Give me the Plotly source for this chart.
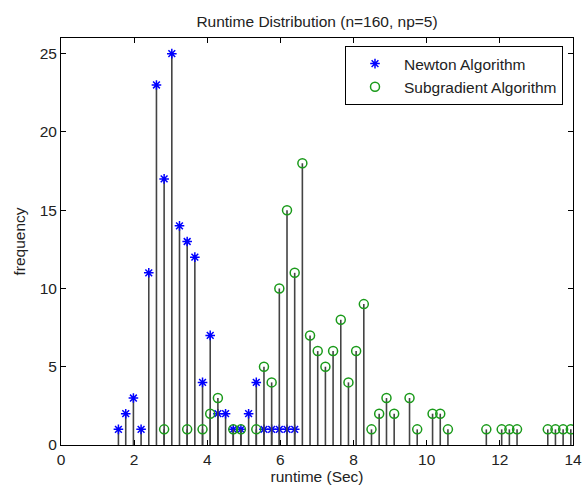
import plotly.graph_objects as go

# ---- data ----
newton_x = [1.57, 1.77, 1.98, 2.19, 2.40, 2.61, 2.82, 3.03, 3.24, 3.45, 3.66, 3.87,
            4.08, 4.29, 4.50, 4.71, 4.92, 5.13, 5.34, 5.55, 5.76, 5.97, 6.18, 6.39]
newton_y = [1, 2, 3, 1, 11, 23, 17, 25, 14, 13, 12, 4,
            7, 2, 2, 1, 1, 2, 4, 1, 1, 1, 1, 1]

subgrad_x = [2.82, 3.45, 3.87, 4.08, 4.29, 4.71, 4.92, 5.34, 5.55, 5.76, 5.97, 6.18,
             6.39, 6.60, 6.81, 7.02, 7.23, 7.44, 7.65, 7.86, 8.07, 8.28, 8.49, 8.70,
             8.90, 9.11, 9.53, 9.74, 10.16, 10.37, 10.58, 11.63, 12.05, 12.26, 12.47,
             13.31, 13.52, 13.73, 13.94]
subgrad_y = [1, 1, 1, 2, 3, 1, 1, 1, 5, 4, 10, 15,
             11, 18, 7, 6, 5, 6, 8, 4, 6, 9, 1, 2,
             3, 2, 3, 1, 2, 2, 1, 1, 1, 1, 1,
             1, 1, 1, 1]

x_ticks = [0, 2, 4, 6, 8, 10, 12, 14]
y_ticks = [0, 5, 10, 15, 20, 25]

title_text = "Runtime Distribution (n=160, np=5)"
x_label = "runtime (Sec)"
y_label = "frequency"
names = ["Newton Algorithm", "Subgradient Algorithm"]

FONT = "Liberation Sans, Arial, Helvetica, sans-serif"
TXT = "#222222"
FS = 15.5
STEM_COLOR = "#444444"


def stems(xs, ys):
    sx, sy = [], []
    for x, y in zip(xs, ys):
        sx += [x, x, None]
        sy += [0, y, None]
    return sx, sy


fig = go.Figure()

for xs, ys, name, sym, col, size in [
    (newton_x, newton_y, names[0], "asterisk-open", "#0000ff", 8),
    (subgrad_x, subgrad_y, names[1], "circle-open", "#1a9a1a", 9),
]:
    sx, sy = stems(xs, ys)
    fig.add_trace(go.Scatter(x=sx, y=sy, mode="lines",
                             line=dict(color=STEM_COLOR, width=1.6),
                             showlegend=False, hoverinfo="skip"))
    fig.add_trace(go.Scatter(x=xs, y=ys, mode="markers", name=name,
                             marker=dict(symbol=sym, size=size, color=col,
                                         line=dict(color=col, width=1.5))))

axis_common = dict(showgrid=False, zeroline=False, showline=True,
                   linecolor="black", linewidth=1, mirror="ticks",
                   ticks="inside", ticklen=5, tickcolor="black",
                   ticklabeloverflow="allow", automargin=False,
                   tickfont=dict(family=FONT, size=FS, color=TXT))

fig.update_layout(
    width=582, height=491,
    margin=dict(l=61, r=9, t=38, b=46, autoexpand=False),
    paper_bgcolor="white", plot_bgcolor="white",
    font=dict(family=FONT, size=FS, color=TXT),
    title=dict(text=title_text, x=0.5, xref="paper", y=1 - 22 / 491,
               yref="container", xanchor="center", yanchor="middle",
               font=dict(family=FONT, size=FS, color=TXT)),
    xaxis=dict(range=[0, 14], tickvals=x_ticks,
               title=dict(text=x_label, standoff=4,
                          font=dict(family=FONT, size=FS, color=TXT)),
               **axis_common),
    yaxis=dict(range=[0, 26], tickvals=y_ticks,
               title=dict(text=y_label, standoff=10,
                          font=dict(family=FONT, size=FS, color=TXT)),
               **axis_common),
    legend=dict(x=502 / 512, y=1 - (46 - 38) / 407, xanchor="right",
                yanchor="top", bordercolor="black", borderwidth=1,
                bgcolor="white", itemwidth=48, indentation=0,
                tracegroupgap=0,
                font=dict(family=FONT, size=FS, color=TXT)),
    showlegend=True,
)

fig.write_html("out.html")
